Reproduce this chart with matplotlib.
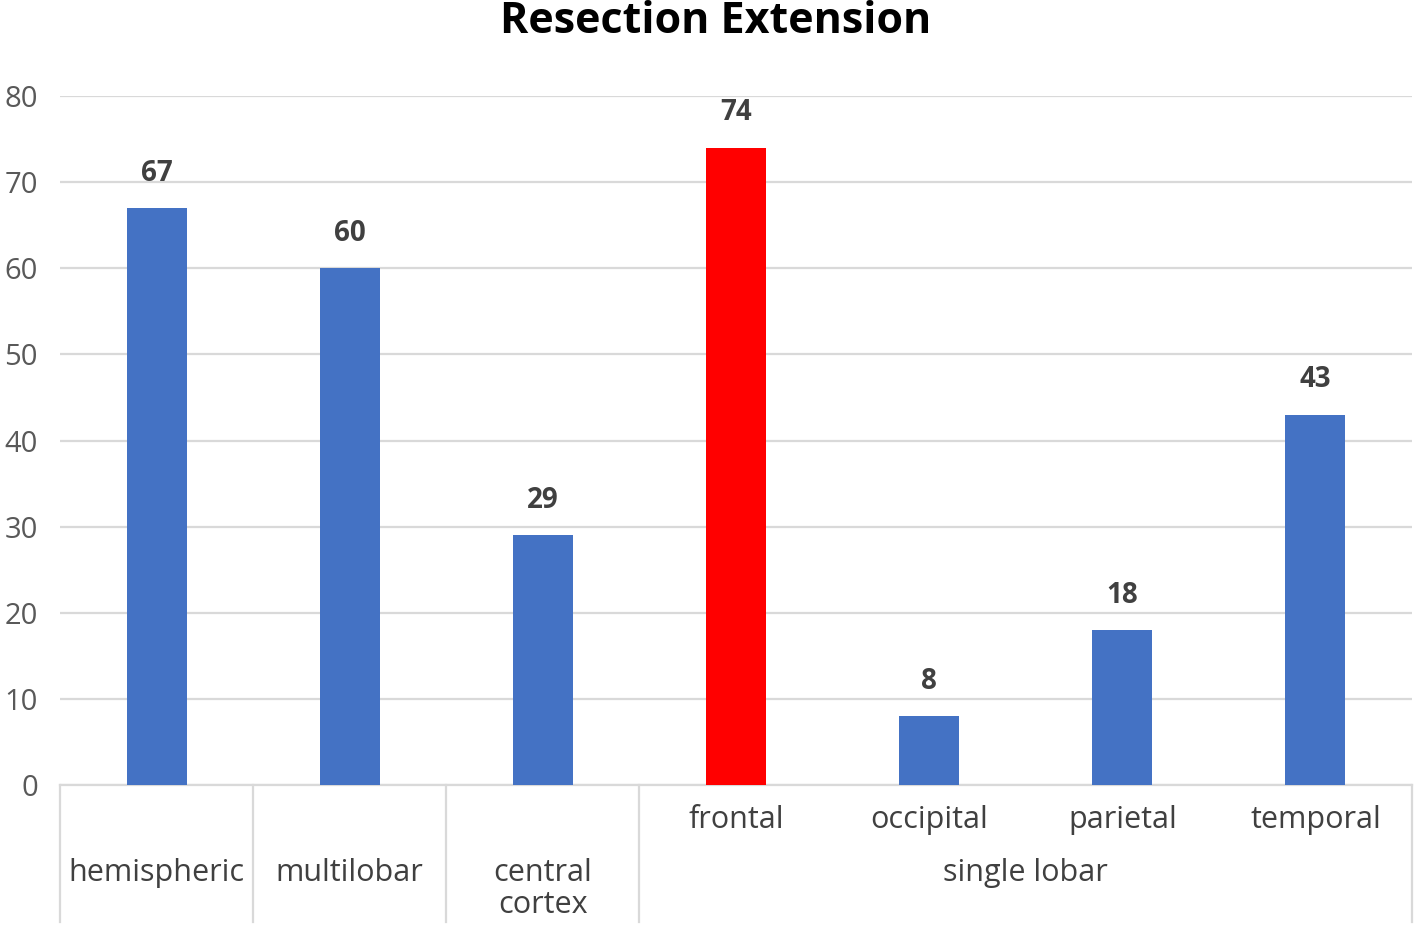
import matplotlib
matplotlib.use("Agg")
import matplotlib.pyplot as plt
import matplotlib.transforms as mtransforms

# Datos del grafico
parents = ["hemispheric", "multilobar", "central\ncortex",
           "single lobar", "single lobar", "single lobar", "single lobar"]
children = ["", "", "", "frontal", "occipital", "parietal", "temporal"]
values = [67, 60, 29, 74, 8, 18, 43]
highlight = "frontal"
yticks = [0, 10, 20, 30, 40, 50, 60, 70, 80]

plt.rcParams["font.family"] = ["Open Sans", "DejaVu Sans"]

fig = plt.figure(figsize=(14.16, 9.27), dpi=100)
ax = fig.add_axes([60 / 1416, 142 / 927, (1412 - 60) / 1416, 689 / 927])

x = list(range(len(values)))
colors = ["#FF0000" if c == highlight else "#4472C4" for c in children]
ax.bar(x, values, width=0.31, color=colors, zorder=3)

ax.set_xlim(-0.5, len(values) - 0.5)
ax.set_ylim(0, 80)
ax.set_yticks(yticks)
ax.tick_params(axis="y", length=0, pad=16, labelsize=21, labelcolor="#595959")
ax.set_xticks([])
ax.grid(axis="y", color="#D9D9D9", linewidth=1.6, zorder=0)
for s in ["top", "right", "left"]:
    ax.spines[s].set_visible(False)
ax.spines["bottom"].set_color("#D9D9D9")
ax.spines["bottom"].set_linewidth(1.6)

# Etiquetas de valor
for xi, v in zip(x, values):
    ax.annotate(str(v), (xi, v), xytext=(0, 25), textcoords="offset points",
                ha="center", va="center", fontsize=20, fontweight="bold",
                color="#404040")

trans = mtransforms.blended_transform_factory(ax.transData, ax.transAxes)

# Subcategorias
for xi, c in zip(x, children):
    if c:
        ax.text(xi, -0.029, c, transform=trans, ha="center", va="top",
                fontsize=22, color="#404040")

# Grupos y separadores
groups = []
for i, p in enumerate(parents):
    if groups and groups[-1][0] == p:
        groups[-1][2] = i
    else:
        groups.append([p, i, i])

bounds = [-0.5] + [g[2] + 0.5 for g in groups]
for b in bounds:
    ax.plot([b, b], [0, -0.199], transform=trans, color="#D9D9D9",
            linewidth=1.6, clip_on=False)

for name, i0, i1 in groups:
    ax.text((i0 + i1) / 2, -0.106, name, transform=trans, ha="center",
            va="top", fontsize=22, color="#404040", linespacing=1.1)

fig.text(0.5056, 0.977, "Resection Extension", ha="center", va="center",
         fontsize=31, fontweight="bold", color="#000000")

fig.savefig("out.png", dpi=100, facecolor="white")
